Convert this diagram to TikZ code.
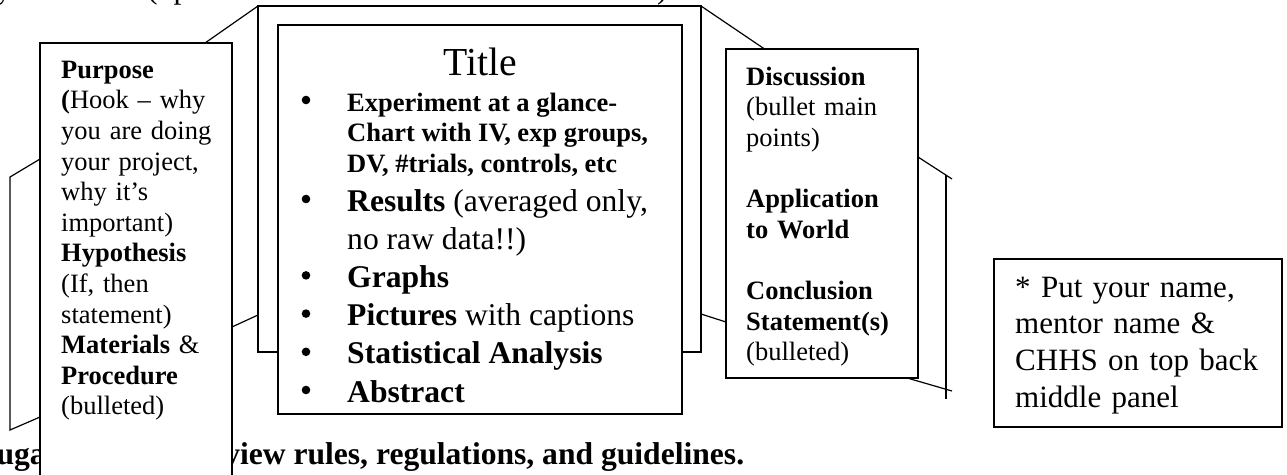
\documentclass[tikz,border=0pt]{standalone}
\usepackage{fontspec}
\setmainfont{Liberation Serif}
\tikzset{panel/.style={draw, line width=1.3pt, fill=white}}
\tikzset{fold/.style={line width=1.2pt}}
\tikzset{small/.style={font=\fontsize{26.5}{30.6}\selectfont, inner sep=0pt}}
\tikzset{large/.style={font=\fontsize{31.6}{36.7}\selectfont, inner sep=0pt}}
\tikzset{dot/.style={circle, fill, inner sep=0pt, minimum size=8.6pt}}

\begin{document}
\begin{tikzpicture}[x=1pt,y=-1pt]
\useasboundingbox (0,0) rectangle (1287,474);

% line cut off at the top edge
\node[large, anchor=base west] (headY) at (-4,-2) {y};
\node[large, anchor=base west] (headUp) at (147,-2) {(up};
\node[large, anchor=base west] (headEnd) at (657,-2) {)};

% back folds of the board
\draw[fold] (44,156.6) -- (10,177) -- (10,430) -- (44,415.3);
\draw[fold] (258,6) rectangle (701,352);
\draw[fold] (200,46.5) -- (258,6);
\draw[fold] (701,6) -- (766,50);
\draw[fold] (228,328.8) -- (258,315);
\draw[fold] (701,314) -- (730,323.3);
\draw[fold] (914,154.4) -- (952,179);
\draw[fold] (946,175) -- (946,399);
\draw[fold] (903,376.8) -- (952,391);

% line at the bottom, partly hidden
\node[large, anchor=base east] (footA) at (46,464) {\bfseries uga};
\node[large, anchor=base west] (footB) at (224,464) {\bfseries view rules, regulations, and guidelines.};

% left panel
\draw[panel] (40,43) rectangle (232,490);
\node[small, anchor=north west, text width=172pt, align=left] (purpose) at (61,56.58)
  {\strut\textbf{Purpose}\\
   \textbf{(}Hook – why\\
   you are doing\\
   your project,\\
   why it’s\\
   important)\\
   \textbf{Hypothesis}\\
   (If, then\\
   statement)\\
   \textbf{Materials} \&\\
   \textbf{Procedure}\\
   (bulleted)};

% middle panel
\draw[panel] (278,25) rectangle (682,414);
\node[font=\fontsize{39.7}{45}\selectfont, inner sep=0pt, anchor=base] (title) at (480,75) {Title};
\node[dot] (d1) at (306,100) {};
\node[dot] (d2) at (306,199) {};
\node[dot] (d3) at (306,275.4) {};
\node[dot] (d4) at (306,313.6) {};
\node[dot] (d5) at (306,351.8) {};
\node[dot] (d6) at (306,390) {};
\node[small, anchor=base west] (exp1) at (347,111) {\textbf{Experiment at a glance-}};
\node[small, anchor=base west] (exp2) at (347,141.5) {\textbf{Chart with IV, exp groups,}};
\node[small, anchor=base west] (exp3) at (347,172) {\textbf{DV, \#trials, controls, etc}};
\node[large, anchor=base west] (res1) at (347,211) {\textbf{Results} (averaged only,};
\node[large, anchor=base west] (res2) at (347,249.2) {no raw data!!)};
\node[large, anchor=base west] (graphs) at (347,287.4) {\textbf{Graphs}};
\node[large, anchor=base west] (pics) at (347,325.6) {\textbf{Pictures} with captions};
\node[large, anchor=base west] (stats) at (347,363.8) {\textbf{Statistical Analysis}};
\node[large, anchor=base west] (abstract) at (347,402) {\textbf{Abstract}};

% right panel
\draw[panel] (726,49) rectangle (918,378);
\node[small, anchor=north west, text width=165pt, align=left] (discussion) at (746,63.58)
  {\strut\textbf{Discussion}\\
   (bullet main\\
   points)\\[30.6pt]
   \textbf{Application}\\
   \textbf{to World}\\[30.6pt]
   \textbf{Conclusion}\\
   \textbf{Statement(s)}\\
   (bulleted)};

% note
\draw[panel, line width=1.6pt] (994,259) rectangle (1282,427);
\node[font=\fontsize{31}{36.7}\selectfont, inner sep=0pt, anchor=north west, text width=260pt, align=left] (note) at (1015,271.3)
  {\strut * Put your name,\\
   mentor name \&\\
   CHHS on top back\\
   middle panel};
\end{tikzpicture}
\end{document}
